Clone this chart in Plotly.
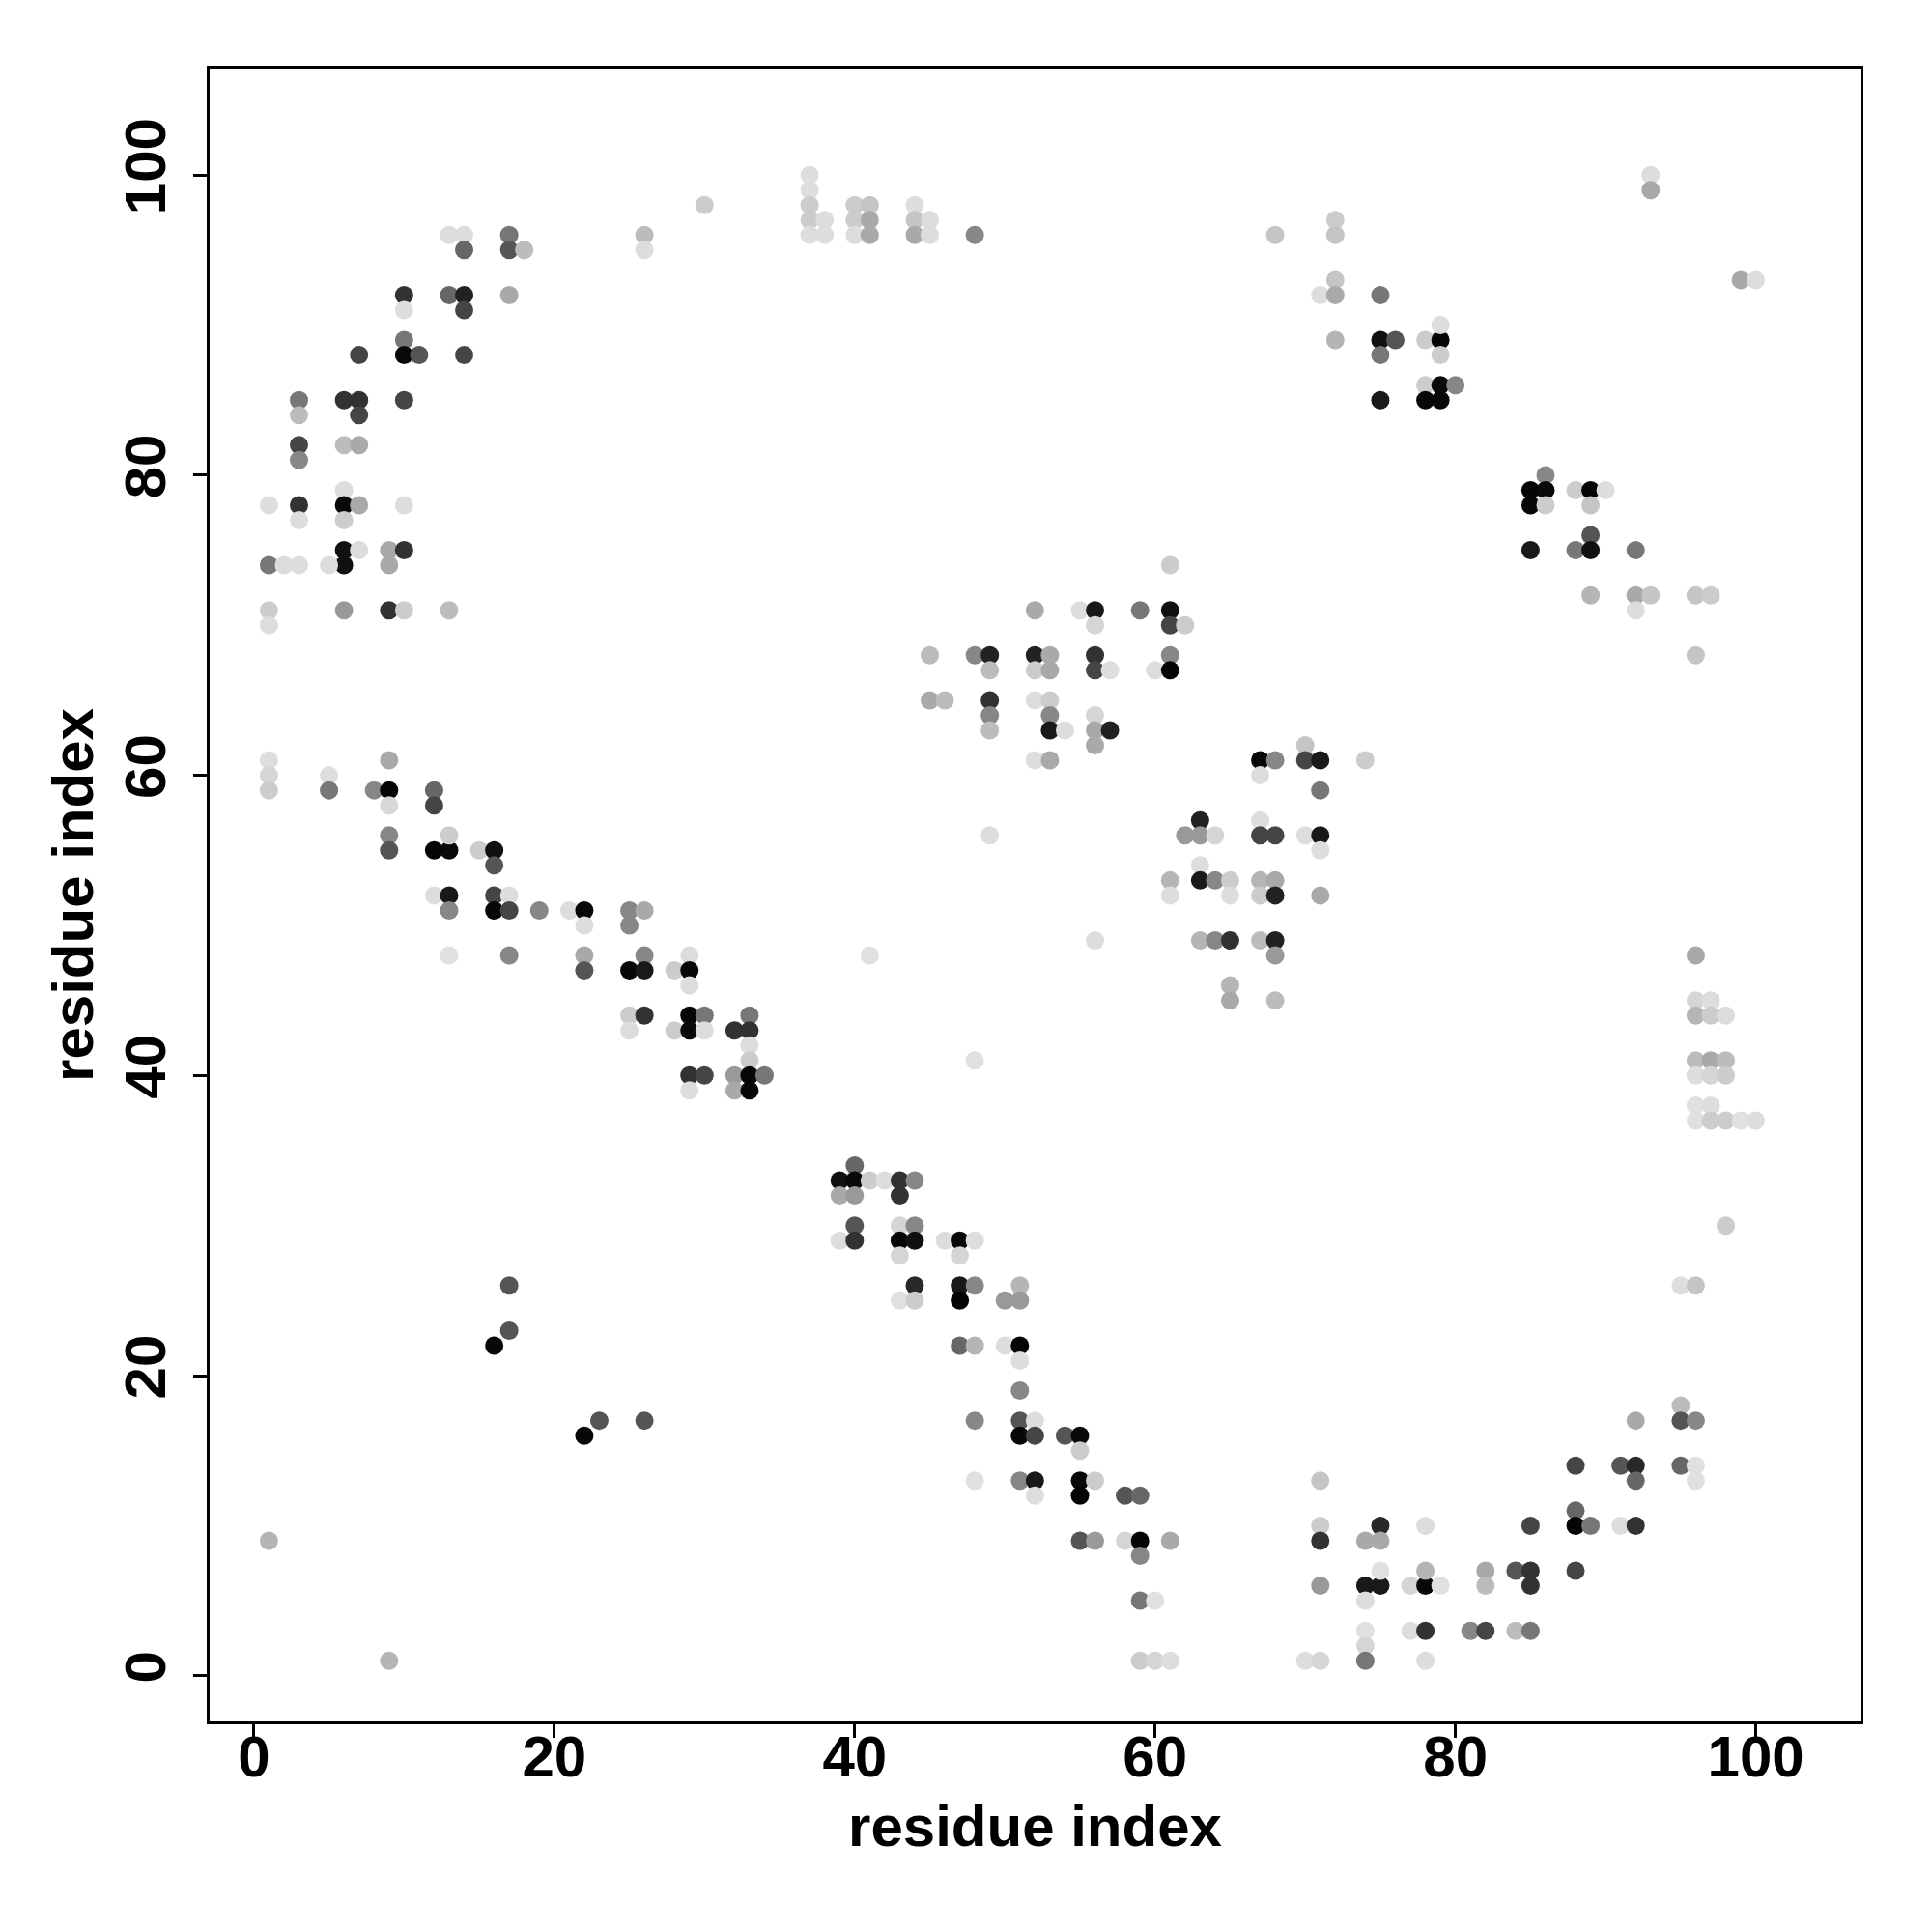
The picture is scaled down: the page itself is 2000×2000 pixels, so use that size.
import plotly.graph_objects as go

# contacts: (residue i, residue j, contact score 0..1)
arc_top_left = [
    (13,96,0.035),(14,96,0.035),(14,95,0.55),(17,96,0.48),(17,95,0.63),(18,95,0.18),
    (10,92,0.78),(10,91,0.035),(13,92,0.55),(14,92,0.85),(14,91,0.70),(17,92,0.26),
    (10,89,0.48),(10,88,0.96),(11,88,0.63),(7,88,0.70),(14,88,0.70),
    (3,85,0.48),(3,84,0.18),(6,85,0.78),(7,85,0.78),(7,84,0.70),(10,85,0.70),
    (3,82,0.70),(3,81,0.41),(6,82,0.18),(7,82,0.26),
    (6,79,0.035),(6,78,0.96),(7,78,0.26),(6,77,0.11),(1,78,0.035),(3,78,0.78),(3,77,0.035),(10,78,0.035),
    (6,75,0.93),(6,74,0.93),(7,75,0.035),(1,74,0.48),(2,74,0.035),(3,74,0.035),(5,74,0.035),
    (9,75,0.26),(9,74,0.26),(10,75,0.78),
    (1,71,0.11),(6,71,0.33),(9,71,0.78),(10,71,0.11),(13,71,0.18),(1,70,0.035),
]

band_upper_left = [
    (1,61,0.035),(1,60,0.07),(1,59,0.11),(5,60,0.035),(5,59,0.48),(8,59,0.41),(9,59,0.98),(9,61,0.26),
    (9,58,0.06),(12,59,0.55),(12,58,0.70),
    (9,56,0.41),(9,55,0.63),(12,55,0.98),(13,55,0.96),(13,56,0.11),(15,55,0.11),(16,55,0.93),(16,54,0.63),
    (12,52,0.035),(13,52,0.89),(13,51,0.41),(16,52,0.70),(17,52,0.035),(16,51,0.965),(17,51,0.70),
    (19,51,0.41),(21,51,0.035),(22,51,0.965),(22,50,0.035),
    (13,48,0.02),(17,48,0.41),(22,48,0.26),(22,47,0.63),
]

band_middle = [
    (25,51,0.41),(26,51,0.26),(25,50,0.41),(26,48,0.41),(25,47,0.965),(26,47,0.89),(29,48,0.035),
    (28,47,0.11),(29,47,0.965),(29,46,0.035),
    (25,44,0.11),(26,44,0.78),(25,43,0.035),(29,44,0.98),(30,44,0.48),(28,43,0.11),(29,43,0.96),
    (30,43,0.035),(33,44,0.48),(32,43,0.78),(33,43,0.78),(33,42,0.035),(33,41,0.11),
    (29,40,0.78),(30,40,0.70),(29,39,0.035),(32,40,0.33),(33,40,0.965),(34,40,0.48),(32,39,0.26),(33,39,0.965),
    (41,48,0.02),(48,41,0.02),
]

top_row = [
    (26,96,0.18),(26,95,0.035),(30,98,0.11),(37,100,0.035),(37,99,0.035),(37,98,0.11),(37,97,0.11),
    (37,96,0.035),(38,97,0.035),(38,96,0.035),
    (40,98,0.11),(41,98,0.14),(40,97,0.11),(41,97,0.26),(40,96,0.035),(41,96,0.26),
    (44,98,0.035),(44,97,0.14),(45,97,0.035),(44,96,0.26),(45,96,0.035),(48,96,0.41),
]

block_center_upper = [
    (45,68,0.18),(48,68,0.41),(49,68,0.85),(49,67,0.18),(52,68,0.85),(52,67,0.11),
    (45,65,0.26),(46,65,0.18),(49,65,0.78),(49,64,0.41),(49,63,0.18),(52,65,0.035),(52,61,0.035),(49,56,0.035),
    (52,71,0.26),(55,71,0.035),(56,71,0.89),(59,71,0.48),(61,71,0.93),(61,74,0.11),
    (56,70,0.07),(61,70,0.70),(62,70,0.11),(53,68,0.26),(53,67,0.26),(56,68,0.78),(56,67,0.70),
    (57,67,0.035),(60,67,0.035),(61,68,0.41),(61,67,0.98),
    (53,65,0.11),(53,64,0.41),(53,63,0.89),(54,63,0.035),(56,64,0.07),(56,63,0.26),(57,63,0.85),
    (56,62,0.26),(53,61,0.26),
]

block_center_lower = [
    (67,61,0.965),(68,61,0.41),(67,60,0.035),(70,62,0.14),(70,61,0.70),(71,61,0.89),(74,61,0.11),(71,59,0.48),
    (63,57,0.85),(62,56,0.33),(63,56,0.33),(64,56,0.07),(67,57,0.035),(67,56,0.70),(68,56,0.70),
    (70,56,0.035),(71,56,0.89),(71,55,0.035),
    (63,54,0.035),(61,53,0.21),(63,53,0.89),(64,53,0.41),(65,53,0.11),(61,52,0.035),(65,52,0.035),
    (67,53,0.21),(68,53,0.26),(67,52,0.11),(68,52,0.85),(71,52,0.26),
    (56,49,0.035),(63,49,0.21),(64,49,0.41),(65,49,0.78),(67,49,0.18),(68,49,0.85),(68,48,0.33),
    (65,46,0.21),(65,45,0.26),(68,45,0.18),
]

arc_top_right = [
    (68,96,0.14),(72,97,0.11),(72,96,0.14),(72,93,0.14),(71,92,0.035),(72,92,0.26),(75,92,0.48),
    (72,89,0.21),(75,89,0.93),(76,89,0.63),(75,88,0.48),(78,89,0.11),(79,89,0.98),(79,90,0.035),
    (79,88,0.11),(78,86,0.11),(79,86,0.96),(80,86,0.41),(75,85,0.89),(78,85,0.965),(79,85,0.965),
    (93,100,0.035),(93,99,0.26),(99,93,0.26),(100,93,0.035),
    (86,80,0.41),(85,79,0.98),(86,79,0.96),(85,78,0.965),(86,78,0.11),(88,79,0.11),(89,79,0.98),
    (90,79,0.035),(89,78,0.14),(89,76,0.63),(88,75,0.48),(89,75,0.93),(85,75,0.89),(92,75,0.48),
    (89,72,0.21),(92,72,0.26),(93,72,0.14),(96,72,0.14),(97,72,0.11),(92,71,0.035),
]

column_right = [
    (96,68,0.14),(96,48,0.26),(96,45,0.07),(97,45,0.035),(96,44,0.21),(97,44,0.11),(98,44,0.035),
    (96,41,0.18),(97,41,0.26),(98,41,0.18),(96,40,0.035),(97,40,0.07),(98,40,0.11),
    (96,38,0.02),(97,38,0.035),(96,37,0.02),(97,37,0.11),(98,37,0.11),(99,37,0.02),(100,37,0.035),
]

scattered_lower_left = [
    (17,26,0.63),(17,23,0.63),(16,22,0.965),(23,17,0.63),(22,16,0.965),(26,17,0.63),(1,9,0.21),(9,1,0.21),
]

band_lower_middle = [
    (40,34,0.55),(39,33,0.93),(40,33,0.96),(41,33,0.11),(42,33,0.035),(43,33,0.78),(44,33,0.41),
    (39,32,0.26),(40,32,0.33),(43,32,0.78),
    (40,30,0.63),(43,30,0.07),(44,30,0.41),(39,29,0.035),(40,29,0.78),(43,29,0.98),(44,29,0.93),
    (46,29,0.035),(47,29,0.965),(48,29,0.035),
    (43,28,0.07),(47,28,0.07),(44,26,0.82),(47,26,0.89),(48,26,0.41),(51,26,0.21),(43,25,0.02),
    (44,25,0.11),(47,25,0.98),(50,25,0.33),(51,25,0.33),
    (47,22,0.55),(48,22,0.21),(50,22,0.035),(51,22,0.98),(51,21,0.035),(51,19,0.41),
    (48,17,0.41),(51,17,0.63),(52,17,0.035),(51,16,0.965),(52,16,0.70),
    (48,13,0.02),(51,13,0.41),(52,13,0.89),(52,12,0.035),
    (54,16,0.63),(55,16,0.96),(55,15,0.11),(55,13,0.96),(56,13,0.11),(55,12,0.98),(58,12,0.63),
    (59,12,0.55),(55,9,0.63),(56,9,0.33),(58,9,0.07),(59,9,0.98),(61,9,0.26),(59,8,0.41),
    (59,5,0.48),(60,5,0.02),(59,1,0.11),(60,1,0.07),(61,1,0.035),
]

arc_bottom_right = [
    (71,13,0.14),(71,10,0.11),(71,9,0.78),(75,10,0.82),(74,9,0.26),(75,9,0.26),(78,10,0.035),
    (71,6,0.33),(74,6,0.89),(75,6,0.89),(75,7,0.02),(74,5,0.035),(77,6,0.07),(78,6,0.965),
    (79,6,0.02),(78,7,0.21),(74,3,0.02),(74,2,0.07),(74,1,0.48),(77,3,0.035),(78,3,0.78),
    (78,1,0.035),(70,1,0.035),(71,1,0.07),
    (98,30,0.11),(95,26,0.035),(96,26,0.14),(92,17,0.26),(95,18,0.18),(95,17,0.63),(96,17,0.41),
    (88,14,0.70),(91,14,0.63),(92,14,0.82),(92,13,0.55),(95,14,0.55),(96,14,0.02),(96,13,0.02),
    (88,11,0.55),(88,10,0.98),(89,10,0.48),(91,10,0.035),(92,10,0.78),(85,10,0.70),
    (82,7,0.26),(82,6,0.18),(84,7,0.63),(85,7,0.78),(85,6,0.78),(88,7,0.70),
    (81,3,0.41),(82,3,0.70),(84,3,0.18),(85,3,0.48),
]

tick_values = [0, 20, 40, 60, 80, 100]
axis_title = "residue index"

groups = [arc_top_left, band_upper_left, band_middle, top_row, block_center_upper,
          block_center_lower, arc_top_right, column_right, scattered_lower_left,
          band_lower_middle, arc_bottom_right]
res_i, res_j, score = [], [], []
for g in groups:
    for a, b, s in g:
        res_i.append(a)
        res_j.append(b)
        score.append(s)

fig = go.Figure(go.Scatter(
    x=res_i, y=res_j, mode="markers",
    marker=dict(size=19, color=score, cmin=0, cmax=1,
                colorscale=[[0, "rgb(229,229,229)"], [1, "rgb(0,0,0)"]],
                line=dict(width=0)),
    hoverinfo="skip",
))

font_family = "Liberation Sans, Arial, Helvetica, sans-serif"
label_font = dict(family=font_family, size=60, color="black", weight="bold")
axis_common = dict(
    tickvals=tick_values, ticks="outside", ticklen=14, tickwidth=3, tickcolor="black",
    showline=True, linewidth=3, linecolor="black", mirror=True,
    showgrid=False, zeroline=False, automargin=False,
    tickfont=label_font,
)
fig.update_layout(
    width=2000, height=2000,
    margin=dict(l=209, r=82, t=63, b=226),
    plot_bgcolor="white", paper_bgcolor="white", showlegend=False,
    xaxis=dict(range=[-2.95, 106.97], ticklabelstandoff=-32, **axis_common,
               title=dict(text=axis_title, standoff=18, font=label_font)),
    yaxis=dict(range=[-3.04, 107.09], tickangle=-90, ticklabelstandoff=5, **axis_common,
               title=dict(text=axis_title, standoff=2, font=label_font)),
)
fig.write_html("out.html")
